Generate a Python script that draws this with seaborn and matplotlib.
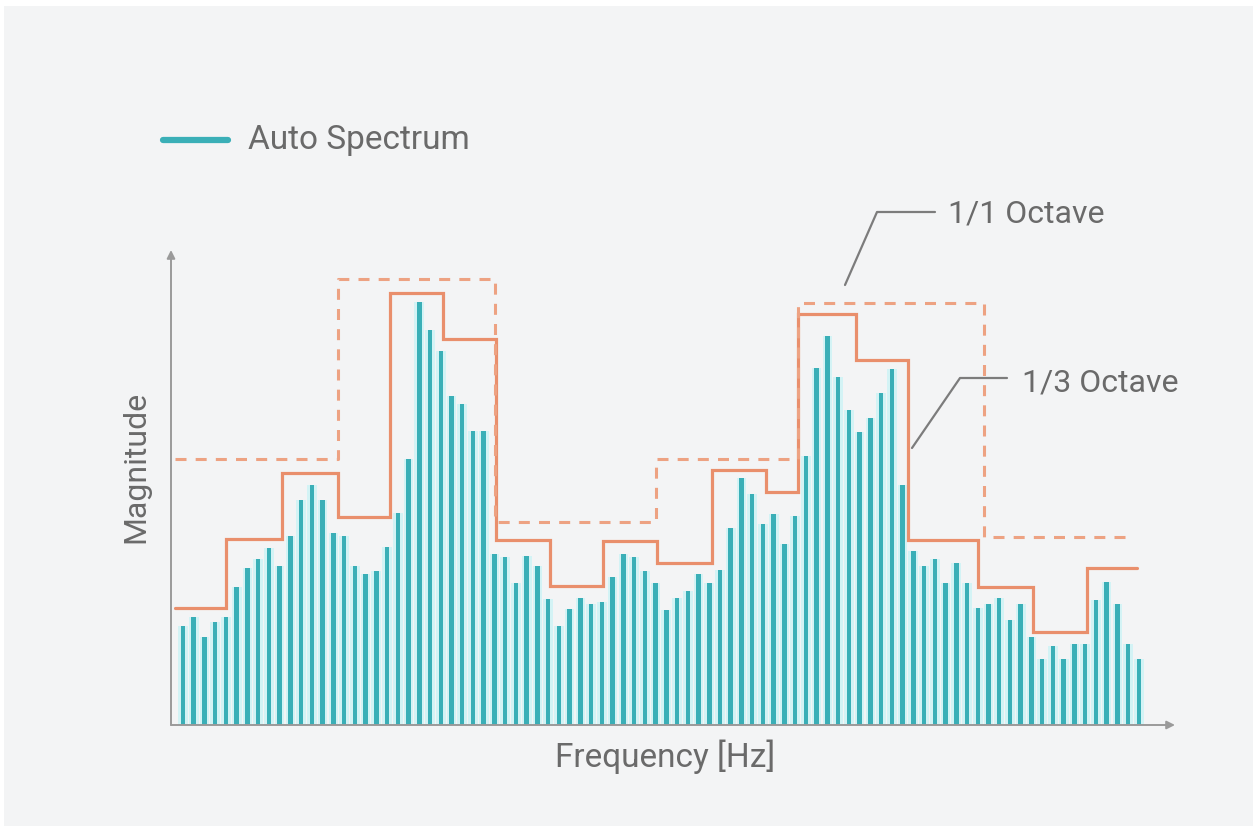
import numpy as np
import pandas as pd
import matplotlib
matplotlib.use("Agg")
import matplotlib.pyplot as plt
from matplotlib.lines import Line2D
from matplotlib.patches import Rectangle
import seaborn as sns

# ---------------- data ----------------
auto_spectrum = [99, 108, 88, 103, 108, 138, 157, 166, 177, 159,
                 189, 225, 240, 225, 192, 189, 159, 151, 154, 178,
                 212, 266, 423, 395, 374, 329, 321, 294, 294, 171,
                 168, 142, 169, 159, 126, 99, 116, 127, 121, 123,
                 148, 171, 168, 154, 142, 115, 127, 134, 151, 142,
                 155, 197, 247, 231, 201, 211, 181, 209, 269, 357,
                 389, 348, 315, 293, 307, 332, 356, 240, 174, 159,
                 166, 142, 162, 142, 117, 121, 127, 105, 121, 88,
                 66, 79, 66, 81, 81, 125, 143, 121, 81, 66]
bins = list(range(len(auto_spectrum)))

third_edges = [-0.7, 4.0, 9.2, 14.4, 19.3, 24.2, 29.1, 34.2, 39.1, 44.1,
               49.3, 54.3, 57.3, 62.7, 67.5, 74.0, 79.1, 84.2, 88.8]
third_levels = [117, 186, 252, 208, 432, 386, 185, 139, 184, 162,
                255, 233, 411, 365, 185, 138, 93, 157]

octave_edges = [-0.7, 14.4, 29.05, 44.05, 57.3, 74.6, 88.55]
octave_levels = [266, 446, 203, 266, 422, 188]

legend_label = "Auto Spectrum"
x_label = "Frequency [Hz]"
y_label = "Magnitude"
octave_label = "1/1 Octave"
third_label = "1/3 Octave"

# ---------------- style ----------------
sns.set_theme(style="white")
plt.rcParams["font.family"] = ["Roboto", "DejaVu Sans"]

W, H = 1253, 826
BG = "#f3f4f5"
TEAL = "#3aafb7"
GAP = "#d3f3f5"
ORANGE = "#e98f6c"
ORANGE_D = "#eda282"
GREY_TXT = "#6a6a6a"
GREY_LN = "#9a9a9a"

fig = plt.figure(figsize=(W / 100, H / 100), dpi=100, facecolor=BG)
# thin white margins as in the reference
fig.patches.append(Rectangle((0, 1 - 6 / H), 1, 6 / H, transform=fig.transFigure,
                             facecolor="white", edgecolor="none", zorder=0))
fig.patches.append(Rectangle((0, 0), 4 / W, 1, transform=fig.transFigure,
                             facecolor="white", edgecolor="none", zorder=0))

def px(x, y):
    return x / W, 1 - y / H

left, right, bottom, top = 171, 1175, 725, 250
ax = fig.add_axes([left / W, 1 - bottom / H, (right - left) / W, (bottom - top) / H])
ax.set_facecolor(BG)

df = pd.DataFrame({"bin": bins, "mag": auto_spectrum})
sns.barplot(data=df, x="bin", y="mag", color=GAP, width=0.9, saturation=1,
            edgecolor="none", ax=ax, zorder=1)
sns.barplot(data=df, x="bin", y="mag", color=TEAL, width=0.42, saturation=1,
            edgecolor="none", ax=ax, zorder=2)

# 1/3 octave (solid) and 1/1 octave (dashed) step lines
ax.plot(third_edges, third_levels + [third_levels[-1]], drawstyle="steps-post",
        color=ORANGE, lw=2.3, zorder=3, solid_joinstyle="miter")
ax.plot(octave_edges, octave_levels + [octave_levels[-1]], drawstyle="steps-post",
        color=ORANGE_D, lw=2.2, dashes=(3.6, 3.0), zorder=3)

ax.set_xlim((left - 183) / 10.74, (right - 183) / 10.74)
ax.set_ylim(0, bottom - top)
ax.set_xticks([])
ax.set_yticks([])
ax.set_xlabel("")
ax.set_ylabel("")
for s in ax.spines.values():
    s.set_visible(False)

# axis arrows
ax.annotate("", xy=(1, 0), xytext=(0, 0), xycoords="axes fraction",
            arrowprops=dict(arrowstyle="-|>", color=GREY_LN, lw=1.4,
                            mutation_scale=12, shrinkA=0, shrinkB=0), zorder=4)
ax.annotate("", xy=(0, 1), xytext=(0, 0), xycoords="axes fraction",
            arrowprops=dict(arrowstyle="-|>", color=GREY_LN, lw=1.4,
                            mutation_scale=12, shrinkA=0, shrinkB=0), zorder=4)

# axis labels
fig.text(*px(665, 757), x_label, ha="center", va="center", fontsize=24, color=GREY_TXT)
fig.text(*px(136, 467), y_label, ha="center", va="center", rotation=90,
         fontsize=23, color=GREY_TXT)

# legend
fig.add_artist(Line2D([163 / W, 228 / W], [1 - 140 / H, 1 - 140 / H],
                      color=TEAL, lw=4.5, solid_capstyle="round"))
fig.text(*px(248, 140), legend_label, ha="left", va="center", fontsize=24, color=GREY_TXT)

# annotation leaders
def leader(pts, text, tx, ty):
    xs = [p[0] / W for p in pts]
    ys = [1 - p[1] / H for p in pts]
    fig.add_artist(Line2D(xs, ys, color="#7c7c7c", lw=1.6))
    fig.text(*px(tx, ty), text, ha="left", va="center", fontsize=23, color=GREY_TXT)

leader([(845, 285), (877, 212), (935, 212)], octave_label, 948, 214)
leader([(912, 448), (960, 378), (1007, 378)], third_label, 1022, 383)

fig.savefig("out.png", dpi=100, facecolor=BG)
